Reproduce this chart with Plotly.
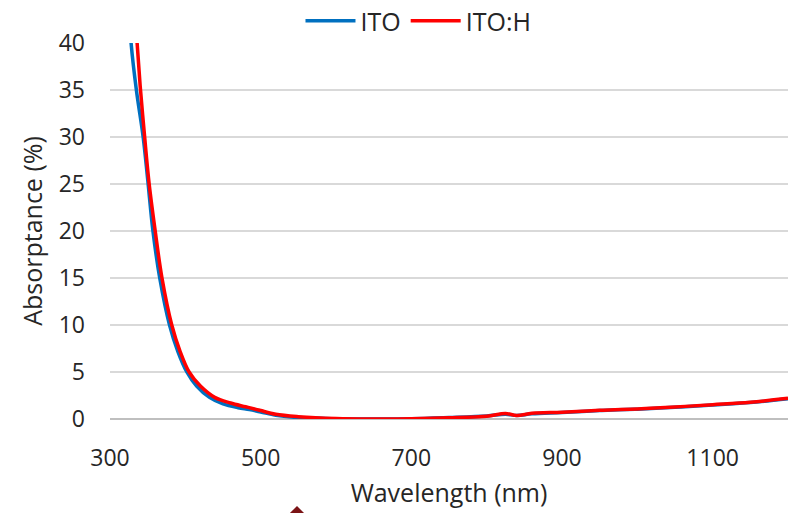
import plotly.graph_objects as go

ito_wl = [325, 328, 335, 344, 350, 357, 366, 379, 390, 402, 415, 432, 450, 470, 485, 500, 520, 550, 600, 650, 700, 750, 800, 825, 840, 860, 900, 950, 1000, 1050, 1100, 1150, 1200]
ito_abs = [44, 40, 35, 30, 25.5, 20, 15, 10, 7.2, 5, 3.5, 2.3, 1.6, 1.2, 1.0, 0.75, 0.4, 0.15, 0.03, 0.0, 0.02, 0.15, 0.32, 0.5, 0.38, 0.55, 0.7, 0.9, 1.05, 1.25, 1.5, 1.75, 2.15]

itoh_wl = [333, 336, 340, 346, 352, 360, 369, 382, 393, 405, 420, 439, 460, 480, 495, 500, 520, 550, 600, 650, 700, 750, 800, 825, 840, 860, 900, 950, 1000, 1050, 1100, 1150, 1200]
itoh_abs = [43, 40, 35.5, 30, 25, 20, 15, 10, 7.2, 5, 3.5, 2.3, 1.7, 1.3, 1.0, 0.9, 0.5, 0.25, 0.05, 0.0, 0.02, 0.12, 0.3, 0.58, 0.38, 0.6, 0.72, 0.92, 1.07, 1.28, 1.52, 1.78, 2.2]

x_ticks = [300, 500, 700, 900, 1100]
y_ticks = [0, 5, 10, 15, 20, 25, 30, 35, 40]

font = dict(family="Open Sans, Liberation Sans, sans-serif", size=23, color="#262626")

fig = go.Figure()
fig.add_trace(go.Scatter(x=ito_wl, y=ito_abs, name="ITO", mode="lines",
                         line=dict(color="#0070C0", width=3.5, shape="spline")))
fig.add_trace(go.Scatter(x=itoh_wl, y=itoh_abs, name="ITO:H", mode="lines",
                         line=dict(color="#FF0000", width=3.5, shape="spline")))

fig.update_layout(
    width=788, height=513,
    margin=dict(l=110, r=0, t=43, b=94, autoexpand=False),
    paper_bgcolor="white", plot_bgcolor="white",
    font=font,
    showlegend=True,
    legend=dict(orientation="h", x=0.455, xanchor="center", y=1.0585, yanchor="middle",
                font=dict(size=25, color="#262626"), itemwidth=50,
                bgcolor="rgba(0,0,0,0)"),
    xaxis=dict(range=[300, 1200], tickvals=x_ticks, showgrid=False, zeroline=False,
               showline=False, ticks="", ticklabelstandoff=23,
               title=dict(text="Wavelength (nm)", standoff=12, font=dict(size=25))),
    yaxis=dict(range=[0, 40], tickvals=y_ticks, showgrid=True, gridcolor="#D9D9D9",
               gridwidth=2, zeroline=True, zerolinecolor="#BFBFBF", zerolinewidth=2,
               showline=False, ticks="", ticklabelstandoff=24,
               title=dict(text="Absorptance (%)", standoff=8, font=dict(size=25))),
)

fig.add_shape(type="path", xref="paper", yref="paper",
              path="M 0.255 -0.2686 L 0.2758 -0.2314 L 0.2966 -0.2686 Z",
              fillcolor="#7B1416", line=dict(width=0))

fig.write_html("out.html")
